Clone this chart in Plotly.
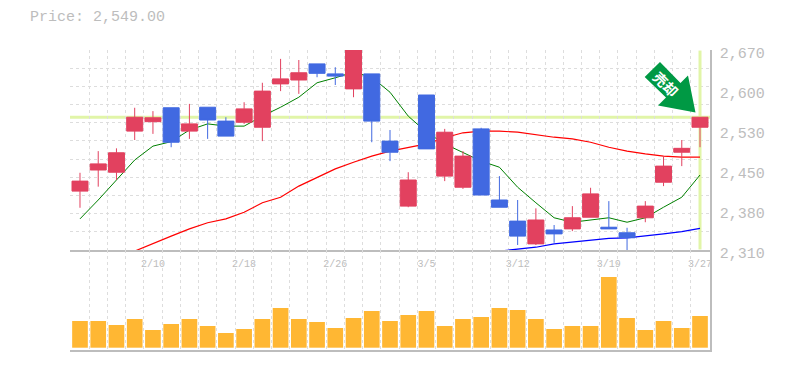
import numpy as np
import plotly.graph_objects as go

W, H = 785, 370
date_pos = [4, 9, 14, 19, 24, 29, 34]
date_labels = ["2/10", "2/18", "2/26", "3/5", "3/12", "3/19", "3/27"]
price_ticks = [2670, 2598, 2526, 2454, 2382, 2310]
price_labels = ["2,670", "2,600", "2,530", "2,450", "2,380", "2,310"]

opens = [2416, 2454, 2450, 2524, 2541, 2566, 2524, 2567, 2542, 2540, 2531, 2609, 2616, 2645, 2627, 2600, 2627,
         2506, 2389, 2589, 2443, 2423, 2528, 2400, 2362, 2321, 2346, 2348, 2369, 2351, 2341, 2368, 2432, 2486, 2531]
closes = [2434, 2465, 2485, 2549, 2548, 2504, 2537, 2544, 2515, 2564, 2596, 2618, 2629, 2628, 2623, 2675, 2542,
          2486, 2436, 2492, 2522, 2479, 2409, 2387, 2335, 2364, 2339, 2368, 2411, 2348, 2332, 2389, 2461, 2493, 2549]
highs = [2449, 2488, 2493, 2566, 2560, 2566, 2573, 2567, 2549, 2576, 2611, 2654, 2652, 2645, 2639, 2675, 2627,
         2526, 2450, 2589, 2528, 2488, 2530, 2443, 2400, 2385, 2355, 2389, 2422, 2398, 2350, 2398, 2479, 2508, 2549]
lows = [2386, 2424, 2436, 2508, 2519, 2495, 2510, 2510, 2515, 2537, 2506, 2596, 2591, 2621, 2607, 2585, 2504,
        2470, 2387, 2492, 2434, 2420, 2409, 2387, 2319, 2319, 2323, 2344, 2369, 2348, 2308, 2360, 2425, 2461, 2495]

ma_short = [2366, 2400, 2436, 2472, 2497, 2505, 2526, 2537, 2533, 2533, 2551, 2567, 2585, 2611, 2620, 2630, 2621,
            2594, 2551, 2522, 2501, 2485, 2470, 2459, 2423, 2395, 2368, 2360, 2364, 2368, 2360, 2368, 2387, 2405, 2445]
ma_mid = [None, None, None, 2308, 2322, 2335, 2348, 2359, 2366, 2378, 2395, 2405, 2425, 2441, 2456, 2468, 2479,
          2488, 2495, 2501, 2512, 2521, 2524, 2524, 2522, 2517, 2513, 2510, 2504, 2495, 2488, 2483, 2479, 2477, 2477]
ma_long = [None] * 23 + [2308, 2312, 2315, 2321, 2324, 2328, 2331, 2332, 2335, 2339, 2343, 2349]
volume = [26.7, 26.7, 22.7, 28.7, 17.7, 23.7, 28.7, 21.7, 14.7, 18.7, 28.7, 39.7, 28.7, 25.7, 19.7, 29.7, 36.7,
          26.7, 32.7, 36.7, 21.7, 28.7, 30.7, 39.7, 37.7, 28.7, 18.7, 21.7, 21.7, 70.7, 29.7, 17.7, 26.7, 19.7, 31.7]
last_price = 2549

n = len(closes)
x = list(range(n))
GREY = "#bdbdbd"
GRID = "#dddddd"
HL = "#e1f5a8"
FONT = "Liberation Mono"
RED = "#e2415f"
BLUE = "#4169e1"

fig = go.Figure()
fig.add_trace(go.Scatter(x=x, y=ma_short, mode="lines", line=dict(color="#008000", width=1), xaxis="x", yaxis="y"))
fig.add_trace(go.Scatter(x=x, y=ma_mid, mode="lines", line=dict(color="#ff0000", width=1.2), xaxis="x", yaxis="y"))
fig.add_trace(go.Scatter(x=x, y=ma_long, mode="lines", line=dict(color="#0000ff", width=1.2), xaxis="x", yaxis="y"))
fig.add_trace(go.Candlestick(
    x=x, open=opens, high=highs, low=lows, close=closes, whiskerwidth=0,
    increasing=dict(line=dict(color=RED, width=1), fillcolor=RED),
    decreasing=dict(line=dict(color=BLUE, width=1), fillcolor=BLUE),
    xaxis="x", yaxis="y3"))
fig.add_trace(go.Bar(x=x, y=[v * 1000 for v in volume], marker=dict(color="#ffb733", line_width=0),
                     width=0.86, xaxis="x2", yaxis="y2"))

xr = [-0.548, 34.548]
grid_x = [i - 0.5 for i in range(n)]
minor_x = dict(tickmode="array", tickvals=grid_x, showgrid=True, gridcolor=GRID, gridwidth=1,
               griddash="3px,3px", ticks="")
grid_y = list(np.linspace(2310, 2670, 12))
arrow_outline = [(644.7, 77), (660, 62), (680.5, 83), (688, 75.5), (695.5, 112.5), (658, 105.5), (666, 97.5)]

fig.update_layout(
    width=W, height=H, margin=dict(l=0, r=0, t=0, b=0, pad=0), autosize=False,
    paper_bgcolor="white", plot_bgcolor="white", showlegend=False, boxgap=0.123, boxgroupgap=0,
    xaxis=dict(domain=[70 / W, 710 / W], range=xr, anchor="y", automargin=False, tickmode="array", tickvals=date_pos,
               ticktext=date_labels, showgrid=False, minor=minor_x, showline=True, linecolor=GREY, linewidth=1.5,
               rangeslider=dict(visible=False), ticks="outside", ticklen=3, tickcolor="rgba(0,0,0,0)",
               tickfont=dict(family=FONT, size=10, color=GREY), zeroline=False, tickangle=0),
    xaxis2=dict(domain=[70 / W, 710 / W], range=xr, anchor="y2", automargin=False, showticklabels=False, showgrid=False,
                minor=minor_x, showline=True, linecolor=GREY, linewidth=1.5, zeroline=False, ticks=""),
    yaxis=dict(domain=[1 - 250 / H, 1 - 50 / H], range=[2310, 2670], anchor="x", side="right", automargin=False,
               tickmode="array", tickvals=price_ticks, ticktext=price_labels, showgrid=False, showline=True,
               linecolor=GREY, linewidth=1.5, zeroline=False, ticks="outside", ticklen=5, tickcolor="rgba(0,0,0,0)",
               ticklabelshift=3, tickfont=dict(family=FONT, size=15, color=GREY),
               minor=dict(tickmode="array", tickvals=grid_y, showgrid=True, gridcolor=GRID, gridwidth=1,
                          griddash="3px,3px", ticks="")),
    yaxis2=dict(domain=[1 - 350 / H, 1 - 250 / H], range=[-2300, 97700], anchor="x2", side="right", automargin=False,
                showticklabels=False, showgrid=False, showline=True, linecolor=GREY, linewidth=1.5,
                zeroline=False, ticks=""),
    yaxis3=dict(overlaying="y", range=[2310, 2670], anchor="x", side="right", visible=False, automargin=False,
                showgrid=False, zeroline=False),
    shapes=[
        dict(type="line", xref="paper", x0=70 / W, x1=710 / W, yref="y", y0=last_price, y1=last_price,
             line=dict(color=HL, width=3), layer="between"),
        dict(type="line", xref="x", x0=n - 1, x1=n - 1, yref="y", y0=2311, y1=2669,
             line=dict(color=HL, width=3), layer="between"),
        dict(type="path", xref="paper", yref="paper", fillcolor="#009944", line_width=0, layer="above",
             path=" ".join(
                 ("M" if k == 0 else "L") + f"{px / W:.5f},{1 - py / H:.5f}"
                 for k, (px, py) in enumerate(arrow_outline)) + " Z"),
    ],
    annotations=[
        dict(text="Price: 2,549.00", xref="paper", yref="paper", x=28 / W, y=1 - 18 / H, xanchor="left",
             yanchor="middle", showarrow=False, font=dict(family=FONT, size=15, color=GREY)),
        dict(text="<b>売却</b>", xref="paper", yref="paper", x=666 / W, y=1 - 84 / H, xanchor="center", yanchor="middle",
             showarrow=False, textangle=45, font=dict(family="Noto Sans CJK JP", size=14, color="white")),
    ],
)
fig.write_html("out.html", config=dict(displayModeBar=False),
               post_script="document.body.style.margin='0';document.body.style.overflow='hidden';")
